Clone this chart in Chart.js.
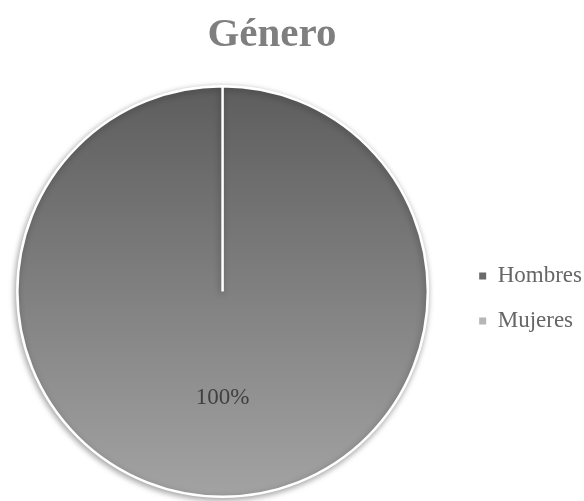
<!DOCTYPE html>
<html>
<head>
<meta charset="utf-8">
<script src="https://cdn.jsdelivr.net/npm/chart.js@4.4.1/dist/chart.umd.min.js"></script>
<style>
  html, body { margin: 0; padding: 0; background: #fff; overflow: hidden; }
  #wrap { width: 584px; height: 501px; overflow: hidden; position: relative; }
  /* lienzo un poco más ancho y corrido a la izquierda para acercar la torta al borde */
  #lienzo { position: absolute; left: -12px; top: 0; width: 596px; height: 501px; }
</style>
</head>
<body>
<div id="wrap"><div id="lienzo"><canvas id="grafico"></canvas></div></div>
<script>
// ==================== DATOS ====================
const categorias = ['Hombres', 'Mujeres'];
const porcentajes = [100, 0];
const tituloGrafico = 'Género';

// colores planos para la leyenda
const coloresLeyenda = ['#6a6a6a', '#b6b6b6'];
const fuenteSerif = '"Liberation Serif", "Times New Roman", serif';
const desplazamiento = 12;

// degradado vertical, oscuro arriba y claro abajo
function degradado(context, claro) {
    const chart = context.chart;
    const area = chart.chartArea;
    if (!area) return coloresLeyenda[context.dataIndex] || '#808080';
    const g = chart.ctx.createLinearGradient(0, area.top, 0, area.bottom);
    if (claro) {
        g.addColorStop(0, '#a8a8a8');
        g.addColorStop(1, '#cfcfcf');
    } else {
        g.addColorStop(0, '#5d5d5d');
        g.addColorStop(1, '#a3a3a3');
    }
    return g;
}

// titulo (desplazado a la izquierda como en el original)
const tituloPlugin = {
    id: 'tituloGenero',
    afterDraw(chart) {
        const ctx = chart.ctx;
        ctx.save();
        ctx.font = 'bold 41px ' + fuenteSerif;
        ctx.fillStyle = '#7f7f7f';
        ctx.textAlign = 'center';
        ctx.textBaseline = 'alphabetic';
        ctx.fillText(tituloGrafico, 272 + desplazamiento, 46);
        ctx.restore();
    }
};

// sombra suave bajo la torta
const sombraPlugin = {
    id: 'sombra',
    beforeDatasetsDraw(chart) {
        const ctx = chart.ctx;
        ctx.save();
        ctx.shadowColor = 'rgba(0,0,0,0.35)';
        ctx.shadowBlur = 6;
        ctx.shadowOffsetX = -1;
        ctx.shadowOffsetY = 2;
    },
    afterDatasetsDraw(chart) {
        chart.ctx.restore();
    }
};

// etiqueta de porcentaje dentro de cada sector
const etiquetasPlugin = {
    id: 'etiquetas',
    afterDraw(chart) {
        const ctx = chart.ctx;
        const meta = chart.getDatasetMeta(0);
        ctx.save();
        ctx.font = '23px ' + fuenteSerif;
        ctx.fillStyle = '#404040';
        ctx.textAlign = 'center';
        ctx.textBaseline = 'middle';
        meta.data.forEach((arc, i) => {
            if (!porcentajes[i]) return;
            const p = arc.tooltipPosition();
            ctx.fillText(porcentajes[i] + '%', p.x, p.y + 4);
        });
        ctx.restore();
    }
};

const ctx = document.getElementById('grafico').getContext('2d');
new Chart(ctx, {
    type: 'pie',
    data: {
        labels: categorias,
        datasets: [{
            data: porcentajes,
            backgroundColor: c => degradado(c, c.dataIndex === 1),
            borderColor: '#ffffff',
            borderWidth: 2.5
        }]
    },
    options: {
        responsive: true,
        maintainAspectRatio: false,
        animation: false,
        layout: { padding: { left: 0, right: -8, top: 85, bottom: 3 } },
        plugins: {
            title: { display: false },
            legend: {
                position: 'right',
                title: { display: true, text: ' ', font: { size: 1 }, padding: { top: 0, bottom: 13 } },
                labels: {
                    boxWidth: 7,
                    boxHeight: 7,
                    padding: 22,
                    color: '#555555',
                    font: { family: fuenteSerif, size: 23 },
                    generateLabels: chart => categorias.map((c, i) => ({
                        text: c,
                        fillStyle: coloresLeyenda[i],
                        strokeStyle: coloresLeyenda[i],
                        lineWidth: 0,
                        hidden: false,
                        index: i
                    }))
                }
            },
            tooltip: { enabled: false }
        }
    },
    plugins: [sombraPlugin, etiquetasPlugin, tituloPlugin]
});
</script>
</body>
</html>
